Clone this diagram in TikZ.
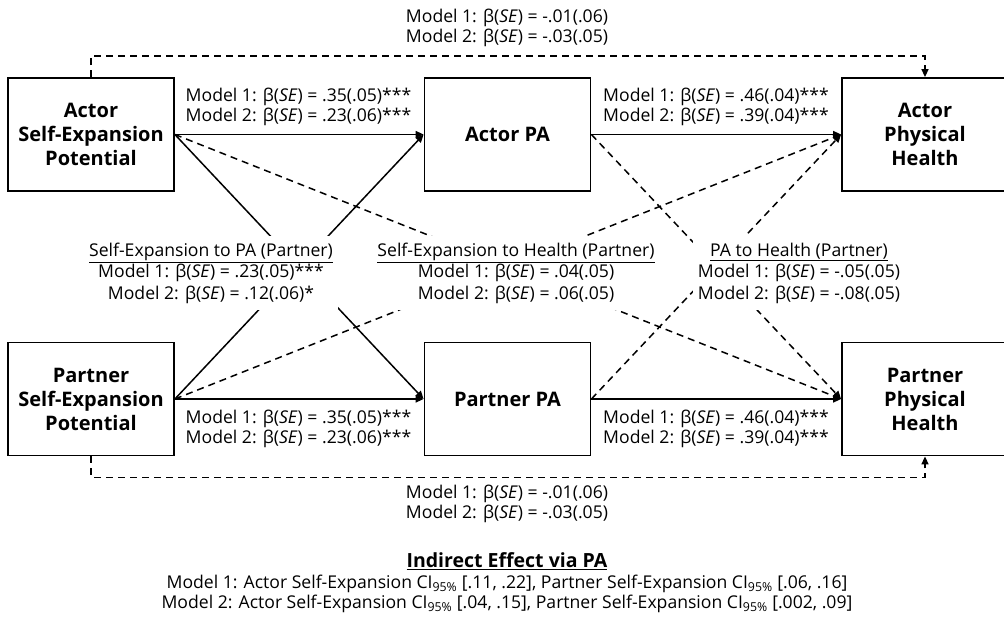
\documentclass[tikz,border=0pt]{standalone}
\usepackage{fontspec}
\setmainfont{Open Sans}
\usetikzlibrary{arrows.meta}
\tikzset{
  box/.style={draw, line width=1.8pt, minimum width=166pt, minimum height=113pt, align=center, inner sep=0pt, font=\fontsize{20}{24}\selectfont\bfseries},
  lbl/.style={align=center, inner sep=0pt, font=\fontsize{17.6}{20.5}\selectfont},
  clbl/.style={align=center, fill=white, inner xsep=5pt, inner ysep=7pt, font=\fontsize{17.6}{21.5}\selectfont},
  path/.style={line width=1.5pt, -{Triangle[length=8pt,width=7pt]}},
  dpath/.style={path, dash pattern=on 7pt off 5pt},
}
\newcommand{\bse}{β(\textit{SE})}
\begin{document}
\begin{tikzpicture}[x=1pt,y=-1pt]
\useasboundingbox (0,0) rectangle (1004,621);
% boxes
\node[box] (aSEP) at (91,134.5) {Actor\\Self-Expansion\\Potential};
\node[box] (aPA) at (507.5,134.5) {Actor PA};
\node[box] (aPH) at (925,134.5) {Actor\\Physical\\Health};
\node[box] (pSEP) at (91,399) {Partner\\Self-Expansion\\Potential};
\node[box] (pPA) at (507.5,399) {Partner PA};
\node[box] (pPH) at (925,399) {Partner\\Physical\\Health};
% straight paths
\draw[path] (aSEP.east) -- (aPA.west);
\draw[path] (aPA.east) -- (aPH.west);
\draw[path] (pSEP.east) -- (pPA.west);
\draw[path] (pPA.east) -- (pPH.west);
% cross paths
\draw[path] (aSEP.east) -- (pPA.west);
\draw[path] (pSEP.east) -- (aPA.west);
\draw[dpath] (aSEP.east) -- (pPH.west);
\draw[dpath] (pSEP.east) -- (aPH.west);
\draw[dpath] (aPA.east) -- (pPH.west);
\draw[dpath] (pPA.east) -- (aPH.west);
% direct dashed paths
\draw[dpath] (aSEP.north) -- ++(0,-21) -| (aPH.north);
\draw[dpath] (pSEP.south) -- ++(0,21) -| (pPH.south);
% labels
\node[lbl] (lTop) at (507,28) {Model 1: \bse{} = -.01(.06)\\Model 2: \bse{} = -.03(.05)};
\node[lbl] (lBot) at (507,504) {Model 1: \bse{} = -.01(.06)\\Model 2: \bse{} = -.03(.05)};
\node[lbl] (lA1) at (298.5,107) {Model 1: \bse{} = .35(.05)***\\Model 2: \bse{} = .23(.06)***};
\node[lbl] (lA2) at (716,107) {Model 1: \bse{} = .46(.04)***\\Model 2: \bse{} = .39(.04)***};
\node[lbl] (lP1) at (298.5,429) {Model 1: \bse{} = .35(.05)***\\Model 2: \bse{} = .23(.06)***};
\node[lbl] (lP2) at (716,429) {Model 1: \bse{} = .46(.04)***\\Model 2: \bse{} = .39(.04)***};
\node[clbl] (lC1) at (211,273) {\underline{Self-Expansion to PA (Partner)}\\Model 1: \bse{} = .23(.05)***\\Model 2: \bse{} = .12(.06)*};
\node[clbl] (lC2) at (516,273) {\underline{Self-Expansion to Health (Partner)}\\Model 1: \bse{} = .04(.05)\\Model 2: \bse{} = .06(.05)};
\node[clbl] (lC3) at (799,273) {\underline{PA to Health (Partner)}\\Model 1: \bse{} = -.05(.05)\\Model 2: \bse{} = -.08(.05)};
\node[lbl] (lInd) at (507,583) {{\fontsize{19.5}{20.5}\selectfont\textbf{\underline{Indirect Effect via PA}}}\\Model 1: Actor Self-Expansion CI\textsubscript{95\%} [.11, .22], Partner Self-Expansion CI\textsubscript{95\%} [.06, .16]\\Model 2: Actor Self-Expansion CI\textsubscript{95\%} [.04, .15], Partner Self-Expansion CI\textsubscript{95\%} [.002, .09]};
\end{tikzpicture}
\end{document}
